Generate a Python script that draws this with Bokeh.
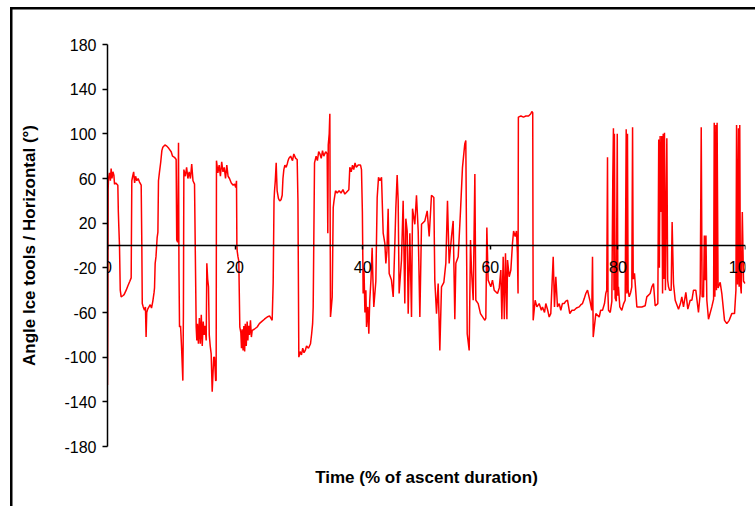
from bokeh.plotting import figure
from bokeh.models import FixedTicker, Title, Range1d
from bokeh.embed import file_html
from bokeh.resources import INLINE

x_label = "Time (% of ascent duration)"
y_label = "Angle Ice tools / Horizontal (°)"
x_ticks = [0, 20, 40, 60, 80, 100]
y_ticks = [-180, -140, -100, -60, -20, 20, 60, 100, 140, 180]

time_pct = [
    0.0, 0.05, 0.1, 0.16, 0.3, 0.45, 0.57, 0.7, 0.85, 1.0, 1.1, 1.3, 1.62, 1.7, 1.78, 1.88, 2.0, 2.14, 2.4, 2.6,
    2.93, 3.2, 3.5, 3.71, 3.81, 3.95, 4.1, 4.25, 4.4, 4.6, 4.8, 5.0, 5.28, 5.38, 5.45, 5.6, 5.8, 5.95, 6.05, 6.15,
    6.3, 6.5, 6.7, 6.9, 7.1, 7.3, 7.37, 7.47, 7.6, 7.78, 7.9, 7.99, 8.15, 8.35, 8.52, 8.67, 9.0, 9.3, 9.6, 9.98,
    10.2, 10.5, 10.76, 10.85, 11.0, 11.13, 11.2, 11.29, 11.45, 11.6, 11.81, 11.9, 11.97, 12.2, 12.4, 12.6, 12.8, 13.0, 13.2, 13.4,
    13.64, 13.9, 14.0, 14.1, 14.25, 14.4, 14.55, 14.7, 14.85, 15.0, 15.15, 15.3, 15.47, 15.57, 15.7, 15.83, 15.95, 16.1, 16.25, 16.41,
    16.51, 16.65, 16.77, 16.95, 17.03, 17.08, 17.3, 17.5, 17.7, 17.9, 18.1, 18.3, 18.5, 18.7, 18.9, 19.12, 19.4, 19.7, 19.91,
    20.1, 20.22, 20.28, 20.33, 20.45, 20.58, 20.74, 20.9, 21.0, 21.1, 21.25, 21.37, 21.5, 21.6, 21.75, 21.89, 22.0, 22.1, 22.25, 22.41,
    22.55, 22.68, 23.0, 23.46, 23.8, 24.2, 24.6, 25.03, 25.4, 25.81, 25.97, 26.1, 26.18, 26.3, 26.44, 26.52, 26.59, 26.8, 27.0, 27.2,
    27.38, 27.5, 27.64, 27.8, 28.0, 28.17, 28.3, 28.42, 28.7, 29.0, 29.2, 29.5, 29.73, 29.85, 29.99, 30.2, 30.4, 30.6, 30.8, 31.0,
    31.2, 31.5, 31.82, 32.0, 32.15, 32.24, 32.45, 32.7, 32.9, 33.1, 33.3, 33.5, 33.7, 33.9, 34.2, 34.43, 34.53, 34.6, 34.75, 34.85,
    34.95, 35.05, 35.22, 35.38, 35.5, 35.74, 36.0, 36.3, 36.6, 36.9, 37.2, 37.5, 37.83, 37.98, 38.2, 38.4, 38.6, 38.8, 39.0, 39.3,
    39.66, 39.81, 39.95, 40.07, 40.2, 40.35, 40.5, 40.6, 40.8, 40.96, 41.1, 41.3, 41.48, 41.6, 41.74, 42.06, 42.27, 42.48, 42.7, 42.95,
    43.21, 43.47, 43.63, 43.8, 43.99, 44.15, 44.51, 44.78, 45.04, 45.19, 45.4, 45.56, 45.71, 46.08, 46.34, 46.6, 46.76, 46.97, 47.13, 47.39,
    47.65, 47.81, 48.17, 48.43, 48.7, 48.96, 49.22, 49.74, 50.11, 50.42, 50.78, 51.15, 51.3, 51.57, 51.83, 52.09, 52.35, 52.72, 53.03, 53.29,
    53.55, 53.92, 54.18, 54.44, 54.6, 54.97, 55.33, 55.64, 56.0, 56.16, 56.38, 56.69, 56.9, 57.05, 57.32, 57.58, 57.73, 58.1, 58.46, 59.15,
    59.3, 59.46, 59.66, 60.08, 60.34, 60.61, 61.13, 61.4, 61.65, 61.81, 62.02, 62.2, 62.38, 62.6, 62.7, 62.96, 63.22, 63.48, 63.65, 63.9,
    64.1, 64.25, 64.35, 64.4, 64.8, 65.2, 65.57, 66.0, 66.35, 66.51, 66.65, 66.72, 67.03, 67.3, 67.66, 68.0, 68.18, 68.5, 68.7, 69.0,
    69.23, 69.48, 69.86, 70.06, 70.27, 70.53, 70.8, 71.05, 71.3, 71.58, 71.8, 72.1, 72.46, 72.8, 73.14, 73.5, 73.93, 74.2, 74.45, 74.7,
    74.97, 75.24, 75.6, 75.91, 76.02, 76.13, 76.54, 77.07, 77.3, 77.59, 77.9, 78.1, 78.25, 78.37,
    78.45, 78.53, 78.8, 79.05, 79.2, 79.3, 79.38, 79.45, 79.57, 79.75, 79.9, 80.0, 80.09, 80.3, 80.61, 80.9, 81.14, 81.3, 81.4, 81.5,
    81.6, 81.77, 82.0, 82.18, 82.3, 82.4, 82.6, 82.97, 83.4, 83.75, 84.27, 84.53, 85.06, 85.32, 85.58, 85.84, 86.26, 86.4, 86.5, 86.62,
    86.75, 86.88, 87.0, 87.1, 87.2, 87.3, 87.45, 87.67, 87.8, 87.93, 88.1, 88.35, 88.5, 88.71, 88.98, 89.5, 89.8, 90.02, 90.28, 90.65,
    90.96, 91.33, 91.6, 91.85, 92.21, 92.63, 92.9, 93.06, 93.2, 93.42, 93.55, 93.68, 93.8, 93.94, 94.2, 94.72, 95.0, 95.1, 95.2, 95.35,
    95.45, 95.55, 95.7, 96.03, 96.29, 96.71, 97.07, 97.45, 97.85, 98.28, 98.5, 98.6, 98.75, 98.9, 99.0, 99.1, 99.2, 99.33, 99.5, 99.69,
    99.95,
]

angle_deg = [
    -125, -60, 50, 60, 65, 58, 69, 60, 66, 63, 55, 56, 54, 30, 16, 0, -40, -46, -45, -44,
    -40, -36, -32, -29, 58, 62, 66, 56, 62, 58, 60, 57, 54, 0, -52, -55, -58, -55, -82, -60,
    -57, -55, -53, -56, -50, -42, -38, -16, -10, 7, 12, 58, 66, 75, 85, 88, 90, 89, 87, 84,
    80, 79, 77, 5, 3, 92, -20, -73, -72, -90, -121, -60, 68, 62, 70, 60, 66, 60, 73, 58,
    55, -73, -85, -70, -88, -65, -88, -62, -90, -68, -80, -72, -85, -16, -30, -37, -80, -90, -97, -131,
    -118, -100, -100, -121, -121, 76, 65, 72, 62, 75, 66, 70, 60, 72, 62, 60, 56, 54, 55,
    52, 58, 0, -5, -10, -14, -73, -78, -92, -75, -94, -72, -95, -70, -90, -68, -85, -72, -80, -67,
    -82, -76, -75, -73, -70, -68, -66, -64, -63, -67, -33, 40, 49, 58, 74, 60, 49, 42, 40, 41,
    45, 60, 68, 72, 70, 73, 76, 78, 80, 76, 82, 78, 77, 40, -100, -95, -98, -92, -96, -94,
    -90, -92, -88, -79, -70, -55, 74, 80, 76, 84, 82, 78, 85, 80, 84, 82, 11, 90, 100, 118,
    -64, -58, -46, 34, 40, 49, 47, 49, 47, 50, 46, 48, 50, 70, 66, 72, 68, 74, 70, 72,
    72, 68, 30, -43, -20, -60, -40, -73, -55, -79, -50, -30, -2, -30, -55, -32, 43, 61, 58, 61,
    11, 2, -16, -5, 33, -25, -31, -46, 2, 33, 63, 40, -43, -13, 40, -52, 24, 13, -61, 11,
    -64, 33, 19, 45, 13, -64, 19, 22, 31, 8, 45, 43, -31, -61, -34, -94, -37, -33, -16, 40,
    -16, 8, 22, -66, -16, -10, 31, 70, 91, 94, -79, -94, 5, -22, -49, 64, -49, -52, -61, -67,
    -65, 16, -31, -37, -31, -40, -43, -38, -22, -66, -10, -66, -7, -66, -13, -28, -22, 2, 13, 8,
    13, -7, -43, 115, 116, 115, 116, 116, 118, 120, 119, -67, -49, -55, -52, -58, -55, -60, -52, -58,
    -64, -61, -10, -55, -28, -55, -52, -58, -52, -52, -50, -49, -61, -58, -58, -56, -55, -53, -52, -48,
    -43, -40, -49, -58, -10, -82, -61, -64, -58, -58, -52, -43, -40, 79,
    -45, -58, -60, -50, 60, 105, -40, 100, -47, -50, 100, -45, -37, -55, -58, -52, -49, 104, -43, 100,
    -40, -46, -42, -37, 106, -30, -25, -55, -55, -55, -54, -46, -43, -37, -34, -54, -52, 95, -20, 98,
    30, 98, -43, 100, -30, 101, -40, 96, -31, -37, -40, -40, 21, -34, -49, -57, -52, -46, -55, -42,
    -57, -49, -49, -40, -40, -60, -43, 106, -46, -46, 9, -31, 9, -49, -66, -55, -48, 110, -46, 108,
    -40, 110, -38, -33, -43, -67, -70, -67, -61, -61, -40, 108, -35, 105, -37, 108, -34, -43, 30, -32,
    -34,
]

FONT = "Liberation Sans"

# chart-area border (left and top edges visible, the rest runs off the page)
border_css = (
    "linear-gradient(#000, #000) 10px 7px / 2.5px 100% no-repeat, "
    "linear-gradient(#000, #000) 10px 7px / 100% 2.5px no-repeat, #ffffff"
)

p = figure(
    width=755, height=506, output_backend="svg", toolbar_location=None,
    x_range=Range1d(0, 100), y_range=Range1d(-180, 180),
    min_border_left=107, min_border_right=10, min_border_top=44, min_border_bottom=60,
    styles={"background": border_css},
)
p.background_fill_color = None
p.border_fill_color = None
p.outline_line_color = None
p.grid.visible = False

p.line(time_pct, angle_deg, line_color="#FF0000", line_width=1.5)

# x axis crossing at zero
xa = p.xaxis[0]
xa.fixed_location = 0
xa.ticker = FixedTicker(ticks=x_ticks)
xa.minor_tick_line_color = None
xa.major_tick_out = 4
xa.major_tick_in = 0
xa.major_label_standoff = 11
xa.axis_line_color = "black"
xa.axis_line_width = 1.5
xa.major_tick_line_width = 1.5
xa.major_label_text_font = FONT
xa.major_label_text_font_size = "16px"
xa.major_label_text_color = "black"

ya = p.yaxis[0]
ya.ticker = FixedTicker(ticks=y_ticks)
ya.major_label_overrides = {t: str(t) for t in y_ticks}
ya.minor_tick_line_color = None
ya.major_tick_out = 5
ya.major_tick_in = 0
ya.major_label_standoff = 6
ya.axis_line_color = "black"
ya.axis_line_width = 1.5
ya.major_tick_line_width = 1.5
ya.major_label_text_font = FONT
ya.major_label_text_font_size = "16px"
ya.major_label_text_color = "black"
ya.axis_label = y_label
ya.axis_label_text_font = FONT
ya.axis_label_text_font_size = "17px"
ya.axis_label_text_font_style = "bold"
ya.axis_label_text_color = "black"
ya.axis_label_standoff = 22

p.add_layout(Title(text=x_label, align="center", text_font=FONT, text_font_size="17px",
                   text_font_style="bold", text_color="black", standoff=38), "below")

open("out.html", "w").write(file_html(p, INLINE))
